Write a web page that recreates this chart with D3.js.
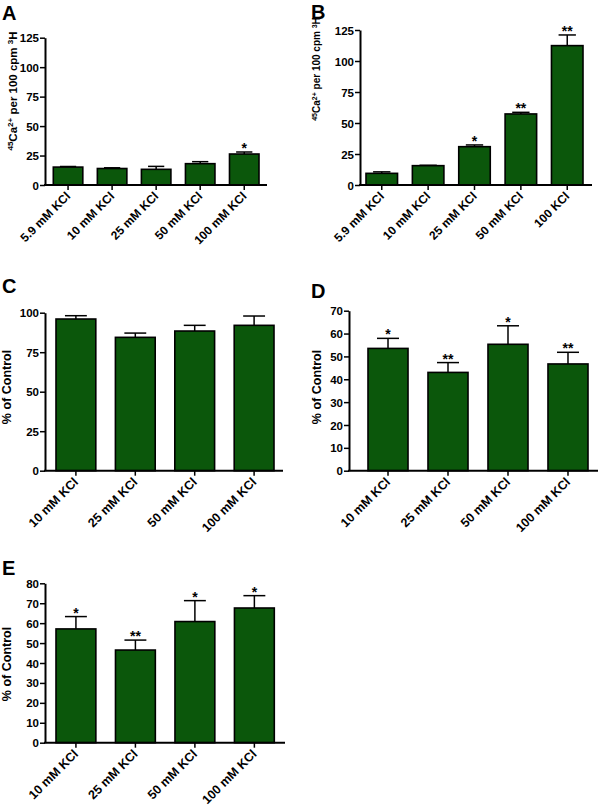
<!DOCTYPE html>
<html><head><meta charset="utf-8">
<script src="https://cdn.jsdelivr.net/npm/d3@7"></script>
<style>
html,body{margin:0;padding:0;background:#fff;}
svg text{font-family:Arial,"Liberation Sans",sans-serif;font-weight:bold;fill:#000;}
</style></head>
<body>
<svg id="fig" width="600" height="807"></svg>
<script>
// ---- data ----
const catsA = ["5.9 mM KCl","10 mM KCl","25 mM KCl","50 mM KCl","100 mM KCl"];
const meanA = [15.2, 14.0, 13.3, 18.1, 26.3];
const errA  = [0.5, 0.6, 2.5, 1.7, 1.7];
const sigA  = ["", "", "", "", "*"];
const ticksA = [0, 25, 50, 75, 100, 125];

const catsB = ["5.9 mM KCl","10 mM KCl","25 mM KCl","50 mM KCl","100 KCl"];
const meanB = [9.4, 15.6, 30.9, 57.3, 112.4];
const errB  = [1.2, 0.3, 1.4, 1.3, 8.6];
const sigB  = ["", "", "*", "**", "**"];
const ticksB = [0, 25, 50, 75, 100, 125];

const catsC = ["10 mM KCl","25 mM KCl","50 mM KCl","100 mM KCl"];
const meanC = [96.0, 84.4, 88.4, 92.0];
const errC  = [2.1, 2.7, 3.6, 5.9];
const sigC  = ["", "", "", ""];
const ticksC = [0, 25, 50, 75, 100];

const catsD = ["10 mM KCl","25 mM KCl","50 mM KCl","100 mM KCl"];
const meanD = [53.5, 43.0, 55.3, 46.7];
const errD  = [4.4, 4.3, 8.1, 5.1];
const sigD  = ["*", "**", "*", "**"];
const ticksD = [0, 10, 20, 30, 40, 50, 60, 70];

const catsE = ["10 mM KCl","25 mM KCl","50 mM KCl","100 mM KCl"];
const meanE = [57.1, 46.5, 60.8, 67.6];
const errE  = [6.2, 5.0, 10.5, 6.2];
const sigE  = ["*", "**", "*", "*"];
const ticksE = [0, 10, 20, 30, 40, 50, 60, 70, 80];

const titleCa = [["45","sup"],["Ca",""],["2+","sup"],[" per 100 cpm  ",""],["3","sup"],["H",""]];
const titlePct = [["% of Control",""]];

// ---- layout ----
const svg = d3.select("#fig");
const GREEN = "#0b570b";

function panel(o){
  const g = svg.append("g");
  const y = d3.scaleLinear().domain([0, o.ymax]).range([o.y0, o.y1]);
  const x = d3.scaleBand().domain(o.cats).range([o.b0, o.b1]).paddingInner(o.pad).paddingOuter(0);
  const data = o.cats.map((c,i)=>({c, m:o.mean[i], e:o.err[i], s:o.sig[i]}));
  // error bars (upper only)
  data.forEach(d=>{
    const cx = x(d.c) + x.bandwidth()/2;
    const capW = x.bandwidth()*0.55;
    g.append("line").attr("x1",cx).attr("x2",cx).attr("y1",y(d.m)).attr("y2",y(d.m+d.e))
      .attr("stroke","#000").attr("stroke-width",1.5);
    g.append("line").attr("x1",cx-capW/2).attr("x2",cx+capW/2).attr("y1",y(d.m+d.e)).attr("y2",y(d.m+d.e))
      .attr("stroke","#000").attr("stroke-width",1.5);
  });
  g.selectAll("rect.bar").data(data).join("rect").attr("class","bar")
    .attr("x", d=>x(d.c)).attr("width", x.bandwidth())
    .attr("y", d=>y(d.m)).attr("height", d=>o.y0 - y(d.m))
    .attr("fill", GREEN).attr("stroke","#000").attr("stroke-width",1.6);
  // significance
  g.selectAll("text.sig").data(data).join("text").attr("class","sig")
    .attr("x", d=>x(d.c)+x.bandwidth()/2).attr("y", d=>y(d.m+d.e)+1)
    .attr("text-anchor","middle").attr("font-size",14).text(d=>d.s);
  // y axis
  const ya = g.append("g").attr("transform",`translate(${o.ax},0)`)
    .call(d3.axisLeft(y).tickValues(o.ticks).tickSize(5).tickPadding(1).tickSizeOuter(0));
  ya.select(".domain").attr("stroke-width",2);
  ya.selectAll(".tick line").attr("stroke-width",1.5);
  ya.selectAll(".tick text").attr("font-size",11.5).attr("font-family",null).attr("dy","0.35em");
  // x axis line
  g.append("line").attr("x1",o.ax-1).attr("x2",o.axEnd).attr("y1",o.y0).attr("y2",o.y0)
    .attr("stroke","#000").attr("stroke-width",2);
  // x ticks + labels
  data.forEach(d=>{
    const cx = x(d.c) + x.bandwidth()/2;
    g.append("line").attr("x1",cx).attr("x2",cx).attr("y1",o.y0).attr("y2",o.y0+5)
      .attr("stroke","#000").attr("stroke-width",1.5);
    g.append("text").attr("transform",`translate(${cx+3},${o.y0+12}) rotate(-45)`)
      .attr("text-anchor","end").attr("font-size",o.xfs).text(d.c);
  });
  // y title
  const t = g.append("text").attr("transform",`translate(${o.tx},${o.ty}) rotate(-90)`)
    .attr("text-anchor","middle").attr("font-size",o.tfs);
  o.title.forEach(([s,k])=>{
    const ts = t.append("tspan").text(s);
    if(k==="sup") ts.attr("baseline-shift","super").attr("font-size",o.tfs*0.7);
  });
  // panel letter
  svg.append("text").attr("x",o.lx).attr("y",o.ly).attr("font-size",20).text(o.letter);
}

panel({letter:"A", lx:2, ly:20, cats:catsA, mean:meanA, err:errA, sig:sigA, ticks:ticksA, ymax:125,
  y0:185, y1:37.7, ax:45, axEnd:267, b0:53.3, b1:259, pad:0.33, tx:17, ty:91, tfs:11.5, xfs:12, title:titleCa});
panel({letter:"B", lx:311, ly:19, cats:catsB, mean:meanB, err:errB, sig:sigB, ticks:ticksB, ymax:125,
  y0:185, y1:30, ax:360, axEnd:592, b0:366, b1:583, pad:0.32, tx:320, ty:69, tfs:10, xfs:12, title:titleCa});
panel({letter:"C", lx:2, ly:293, cats:catsC, mean:meanC, err:errC, sig:sigC, ticks:ticksC, ymax:100,
  y0:470.7, y1:312.7, ax:45, axEnd:283, b0:56, b1:274, pad:0.33, tx:11, ty:387, tfs:12.5, xfs:12.5, title:titlePct});
panel({letter:"D", lx:311, ly:298, cats:catsD, mean:meanD, err:errD, sig:sigD, ticks:ticksD, ymax:70,
  y0:470.7, y1:310.7, ax:349, axEnd:598, b0:368, b1:588, pad:0.333, tx:321, ty:387, tfs:12.5, xfs:12.5, title:titlePct});
panel({letter:"E", lx:2, ly:575, cats:catsE, mean:meanE, err:errE, sig:sigE, ticks:ticksE, ymax:80,
  y0:742.7, y1:583.3, ax:45, axEnd:285, b0:56, b1:274.3, pad:0.33, tx:11, ty:664, tfs:12.5, xfs:12.5, title:titlePct});
</script>
</body></html>
